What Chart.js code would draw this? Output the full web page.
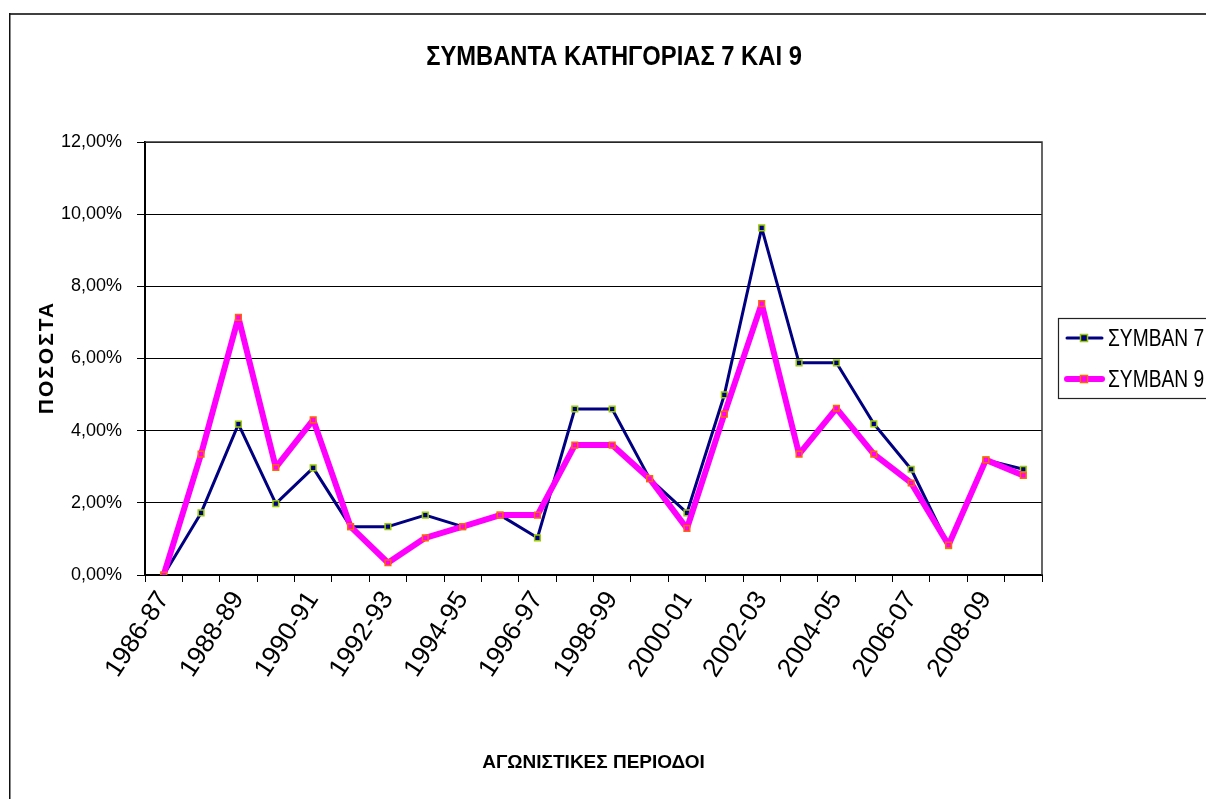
<!DOCTYPE html>
<html>
<head>
<meta charset="utf-8">
<script src="https://cdn.jsdelivr.net/npm/chart.js@4.4.1/dist/chart.umd.min.js"></script>
<style>
  html, body { margin: 0; padding: 0; background: #fff; }
  canvas { display: block; }
</style>
</head>
<body>
<canvas id="c" width="1206" height="799"></canvas>
<script>
const categories = ['1986-87','1987-88','1988-89','1989-90','1990-91','1991-92','1992-93','1993-94',
  '1994-95','1995-96','1996-97','1997-98','1998-99','1999-00','2000-01','2001-02','2002-03',
  '2003-04','2004-05','2005-06','2006-07','2007-08','2008-09','2009-10'];
const symban7 = [0, 1.72, 4.18, 1.98, 2.97, 1.34, 1.34, 1.66, 1.34, 1.66, 1.03, 4.60, 4.60, 2.67,
  1.72, 4.99, 9.62, 5.88, 5.88, 4.19, 2.93, 0.81, 3.19, 2.93];
const symban9 = [0, 3.35, 7.14, 2.98, 4.30, 1.34, 0.34, 1.03, 1.34, 1.66, 1.66, 3.60, 3.60, 2.67,
  1.29, 4.46, 7.52, 3.35, 4.62, 3.35, 2.55, 0.83, 3.19, 2.76];
const yTicks = [0, 2, 4, 6, 8, 10, 12];
const titleText = 'ΣΥΜΒΑΝΤΑ ΚΑΤΗΓΟΡΙΑΣ 7 ΚΑΙ 9';
const yTitleText = 'ΠΟΣΟΣΤΑ';
const xTitleText = 'ΑΓΩΝΙΣΤΙΚΕΣ ΠΕΡΙΟΔΟΙ';
const seriesNames = ['ΣΥΜΒΑΝ 7', 'ΣΥΜΒΑΝ 9'];

const FONT = "'Liberation Sans', Arial, sans-serif";

function squeezedText(ctx, text, x, y, sx) {
  ctx.save();
  ctx.translate(x, y);
  ctx.scale(sx, 1);
  ctx.fillText(text, 0, 0);
  ctx.restore();
}

const deco = {
  id: 'deco',
  beforeDraw(chart) {
    const ctx = chart.ctx;
    ctx.save();
    ctx.fillStyle = '#fff';
    ctx.fillRect(0, 0, chart.width, chart.height);
    ctx.restore();
  },
  afterDraw(chart) {
    const ctx = chart.ctx;
    const a = chart.chartArea;
    ctx.save();
    // outer frame
    ctx.strokeStyle = '#404040';
    ctx.lineWidth = 2;
    ctx.beginPath();
    ctx.moveTo(9, 14); ctx.lineTo(1210, 14);
    ctx.stroke();
    ctx.strokeStyle = '#111';
    ctx.lineWidth = 1.5;
    ctx.beginPath();
    ctx.moveTo(9.75, 13); ctx.lineTo(9.75, 805);
    ctx.stroke();
    // plot area top/right border
    ctx.strokeStyle = '#333';
    ctx.lineWidth = 1.5;
    ctx.beginPath();
    ctx.moveTo(a.left, a.top); ctx.lineTo(a.right, a.top); ctx.lineTo(a.right, a.bottom);
    ctx.stroke();

    // titles
    ctx.fillStyle = '#000';
    ctx.textAlign = 'center';
    ctx.textBaseline = 'middle';
    ctx.font = "bold 27px " + FONT;
    squeezedText(ctx, titleText, 614, 58, 0.88);
    ctx.font = "bold 19px " + FONT;
    ctx.fillText(xTitleText, (a.left + a.right) / 2, 763);
    ctx.save();
    ctx.translate(47, (a.top + a.bottom) / 2);
    ctx.rotate(-Math.PI / 2);
    ctx.font = "bold 21px " + FONT;
    if ('letterSpacing' in ctx) ctx.letterSpacing = '2px';
    ctx.fillText(yTitleText, 1, 0);
    ctx.restore();

    // legend
    ctx.strokeStyle = '#222';
    ctx.lineWidth = 1.2;
    ctx.strokeRect(1058.5, 318.5, 170, 80);
    const rows = [338, 379];
    chart.data.datasets.forEach((ds, i) => {
      const y = rows[i];
      ctx.strokeStyle = ds.borderColor;
      ctx.lineWidth = ds.borderWidth;
      ctx.lineCap = 'round';
      ctx.beginPath();
      ctx.moveTo(1067, y); ctx.lineTo(1102, y);
      ctx.stroke();
      ctx.fillStyle = ds.pointBackgroundColor;
      ctx.fillRect(1080.5, y - 3.5, 7, 7);
      ctx.strokeStyle = ds.pointBorderColor;
      ctx.lineWidth = ds.pointBorderWidth;
      ctx.strokeRect(1080.5, y - 3.5, 7, 7);
      ctx.fillStyle = '#000';
      ctx.textAlign = 'left';
      ctx.font = "24px " + FONT;
      squeezedText(ctx, ds.label, 1108, y + 1, 0.8);
    });
    ctx.restore();
  }
};

new Chart(document.getElementById('c'), {
  type: 'line',
  data: {
    labels: categories,
    datasets: [
      {
        label: seriesNames[0],
        data: symban7,
        borderColor: '#000080',
        borderWidth: 3,
        borderJoinStyle: 'round',
        pointStyle: 'rect',
        pointRadius: 4,
        pointBorderWidth: 1.5,
        pointBorderColor: '#99CC00',
        pointBackgroundColor: '#000080',
        tension: 0,
        order: 1
      },
      {
        label: seriesNames[1],
        data: symban9,
        borderColor: '#FF00FF',
        borderWidth: 6,
        borderJoinStyle: 'round',
        pointStyle: 'rect',
        pointRadius: 4,
        pointBorderWidth: 1.5,
        pointBorderColor: '#FF6600',
        pointBackgroundColor: '#FF00FF',
        tension: 0,
        order: 0
      }
    ]
  },
  options: {
    responsive: false,
    animation: false,
    devicePixelRatio: 1,
    layout: { padding: { left: 0, top: 142, right: 164, bottom: 0 } },
    plugins: { legend: { display: false }, title: { display: false }, tooltip: { enabled: false } },
    scales: {
      x: {
        offset: true,
        grid: { display: true, drawOnChartArea: false, offset: true, color: '#000', tickLength: 7, lineWidth: 1 },
        border: { display: true, color: '#000', width: 2 },
        ticks: {
          autoSkip: false,
          maxRotation: 57,
          minRotation: 57,
          padding: 4,
          color: '#000',
          font: { family: FONT, size: 26 },
          callback: (v, i) => (i % 2 === 0 ? categories[i] : '')
        },
        afterFit: (s) => { s.height = 224; }
      },
      y: {
        min: 0,
        max: 12,
        afterBuildTicks: (s) => { s.ticks = yTicks.map(v => ({ value: v })); },
        grid: { color: '#000', lineWidth: 1, tickLength: 8 },
        border: { display: true, color: '#000', width: 2 },
        ticks: {
          color: '#000',
          padding: 15,
          font: { family: FONT, size: 18 },
          callback: (v) => v.toFixed(2).replace('.', ',') + '%'
        },
        afterFit: (s) => { s.width = 145; }
      }
    }
  },
  plugins: [deco]
});
</script>
</body>
</html>
